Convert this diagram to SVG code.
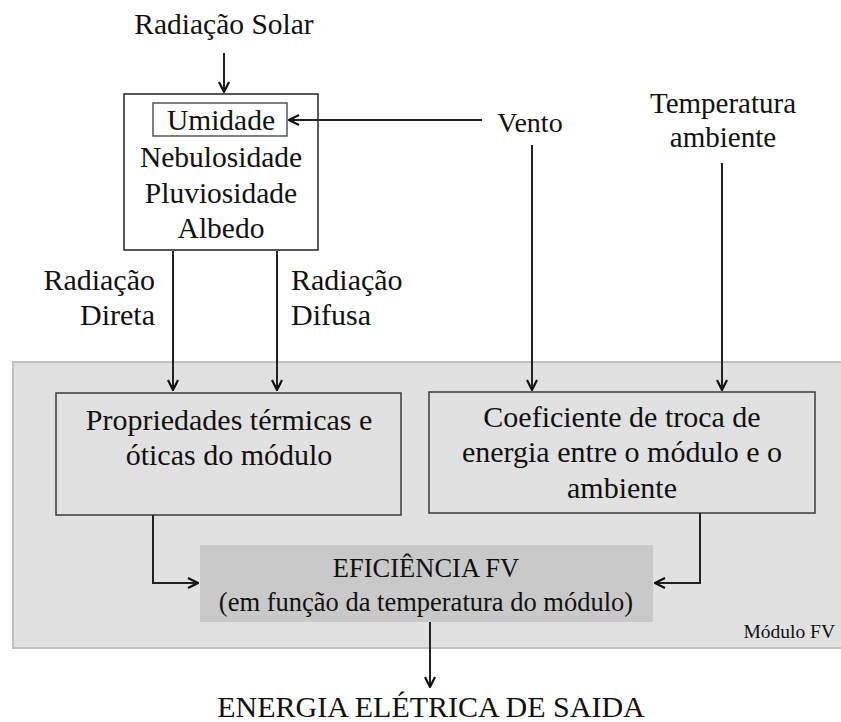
<svg xmlns="http://www.w3.org/2000/svg" width="841" height="722" viewBox="0 0 841 722">
<style>
text{fill:#111;}
.t{font-size:30px;}
.s{font-size:29.5px;}
.c{text-anchor:middle;}
.ln{stroke:#222;stroke-width:2;fill:none;}
.box{fill:#e1e1e1;stroke:#3a3a3a;stroke-width:1.5;}
</style>
<defs>
<marker id="ah" viewBox="0 0 12 12" refX="11" refY="6" markerWidth="12" markerHeight="12" markerUnits="userSpaceOnUse" orient="auto">
<path d="M1,1 L11,6 L1,11" fill="none" stroke="#111" stroke-width="2.2"/>
</marker>
</defs>
<rect width="841" height="722" fill="#fff"/>
<g font-family="'Liberation Serif', 'Times New Roman', 'DejaVu Serif', serif">
<g id="modulo-fv">
<rect x="13" y="362" width="840" height="286" fill="#e1e1e1" stroke="#c2c2c2" stroke-width="2"/>
<text x="835" y="638" font-size="19.5" text-anchor="end">Módulo FV</text>
</g>
<g id="radiacao-solar"><text class="s c" x="224" y="34">Radiação Solar</text></g>
<g id="clima">
<rect x="124" y="94" width="194" height="156" fill="#fff" stroke="#222" stroke-width="1.5"/>
<text class="s c" x="221" y="167">Nebulosidade</text>
<text class="s c" x="221" y="203">Pluviosidade</text>
<text class="s c" x="221" y="238">Albedo</text>
</g>
<g id="umidade">
<rect x="153" y="103" width="134" height="33" fill="#fff" stroke="#555" stroke-width="1.5"/>
<text class="s c" x="221" y="130">Umidade</text>
</g>
<g id="vento"><text class="c" font-size="28" x="530" y="132">Vento</text></g>
<g id="temperatura">
<text class="c" font-size="29" x="723" y="113">Temperatura</text>
<text class="c" font-size="29" x="723" y="147">ambiente</text>
</g>
<g id="rad-direta">
<text class="t" x="155" y="290" text-anchor="end">Radiação</text>
<text class="t" x="155" y="325" text-anchor="end">Direta</text>
</g>
<g id="rad-difusa">
<text class="t" x="291" y="290">Radiação</text>
<text class="t" x="291" y="325">Difusa</text>
</g>
<g id="propriedades">
<rect class="box" x="56" y="393" width="345" height="122"/>
<text class="t c" x="229" y="430">Propriedades térmicas e</text>
<text class="t c" x="229" y="465">óticas do módulo</text>
</g>
<g id="coeficiente">
<rect class="box" x="429" y="392" width="386" height="121"/>
<text class="t c" x="622" y="427">Coeficiente de troca de</text>
<text class="t c" x="622" y="462">energia entre o módulo e o</text>
<text class="t c" x="622" y="498">ambiente</text>
</g>
<g id="eficiencia">
<rect x="200" y="545" width="453" height="77" fill="#c9c9c9"/>
<text class="c" font-size="26.5" x="426" y="577">EFICIÊNCIA FV</text>
<text class="c" font-size="26.5" x="426" y="611">(em função da temperatura do módulo)</text>
</g>
<g id="saida"><text class="t c" x="431" y="717">ENERGIA ELÉTRICA DE SAIDA</text></g>
</g>
<g id="connectors" class="ln">
<path class="ln" d="M224,53 V92" marker-end="url(#ah)"/>
<path class="ln" d="M482,120 H289" marker-end="url(#ah)"/>
<path class="ln" d="M532,145 V390" marker-end="url(#ah)"/>
<path class="ln" d="M722,163 V390" marker-end="url(#ah)"/>
<path class="ln" d="M173,251 V390" marker-end="url(#ah)"/>
<path class="ln" d="M277,251 V390" marker-end="url(#ah)"/>
<path class="ln" d="M153,515 V583 H198" marker-end="url(#ah)"/>
<path class="ln" d="M700,513 V583 H655" marker-end="url(#ah)"/>
<path class="ln" d="M430,622 V687" marker-end="url(#ah)"/>
</g>
</svg>
